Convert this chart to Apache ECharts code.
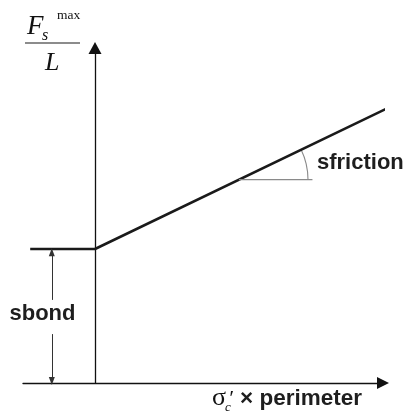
<!DOCTYPE html>
<html>
<head>
<meta charset="utf-8">
<script src="https://cdn.jsdelivr.net/npm/echarts@6/dist/echarts.min.js"></script>
<style>
html,body{margin:0;padding:0;background:#fff;}
#chart{width:406px;height:414px;}
</style>
</head>
<body>
<div id="chart"></div>
<script>
// ---- data (axis units) ----
const lawX = [-0.9, 0, 4.06];          // bond plateau then friction branch
const lawY = [4, 4, 8.2];
const angleRefX = [2, 3.02];            // horizontal reference for friction angle
const angleRefY = [6.07, 6.07];
const arcCenter = [2, 6.07];
const bondArrowX = -0.6;
const bondArrowY = [3.9, 2.48, 1.46, 0.06]; // upper tip, gap top, gap bottom, lower tip
const xRange = [-1, 4];
const yRange = [0, 10];

const chart = echarts.init(document.getElementById('chart'), null, {renderer: 'canvas'});

function txt(text, x, y, font, fill, align) {
  return {
    type: 'text', silent: true,
    style: {
      text: text, x: x, y: y, font: font, fill: fill,
      align: align || 'left', textAlign: align || 'left',
      verticalAlign: 'middle', textVerticalAlign: 'middle'
    }
  };
}

const sansB = 'bold 22px "Liberation Sans", Arial, sans-serif';
const sansBx = 'bold 22.5px "Liberation Sans", Arial, sans-serif';
const serif = '"Liberation Serif", "Times New Roman", serif';
const ink = '#1e1e1e';

const option = {
  animation: false,
  backgroundColor: '#ffffff',
  grid: {left: 23, right: 23, top: 48, bottom: 31, containLabel: false},
  xAxis: {
    type: 'value', min: xRange[0], max: xRange[1],
    axisLine: {show: true, onZero: true, symbol: ['none', 'triangle'], symbolSize: [12, 12],
      lineStyle: {color: '#111', width: 1.3}},
    axisTick: {show: false}, axisLabel: {show: false}, splitLine: {show: false}
  },
  yAxis: {
    type: 'value', min: yRange[0], max: yRange[1],
    axisLine: {show: true, onZero: true, symbol: ['none', 'triangle'], symbolSize: [13, 12],
      lineStyle: {color: '#111', width: 1.3}},
    axisTick: {show: false}, axisLabel: {show: false}, splitLine: {show: false}
  },
  series: [
    {
      type: 'line', clip: false, symbol: 'none', silent: true,
      data: lawX.map((x, i) => [x, lawY[i]]),
      lineStyle: {color: '#1a1a1a', width: 2.6}
    },
    {
      type: 'line', clip: false, symbol: 'none', silent: true,
      data: angleRefX.map((x, i) => [x, angleRefY[i]]),
      lineStyle: {color: '#8a8a8a', width: 1.1}
    },
    {
      type: 'custom', silent: true, clip: false,
      data: [arcCenter],
      renderItem: function (params, api) {
        const c = api.coord([api.value(0), api.value(1)]);
        const e = api.coord([lawX[2], lawY[2]]);
        const ang = Math.atan2(e[1] - c[1], e[0] - c[0]);
        return {
          type: 'arc',
          shape: {cx: c[0], cy: c[1], r: 69, startAngle: ang, endAngle: 0, clockwise: true},
          style: {stroke: '#8a8a8a', fill: null, lineWidth: 1.1}
        };
      }
    },
    {
      type: 'line', data: [], silent: true,
      markLine: {
        silent: true, animation: false,
        symbol: ['none', 'triangle'], symbolSize: [6, 8],
        label: {show: false},
        lineStyle: {color: '#333', width: 1, type: 'solid'},
        emphasis: {disabled: true},
        data: [
          [{coord: [bondArrowX, bondArrowY[1]]}, {coord: [bondArrowX, bondArrowY[0]]}],
          [{coord: [bondArrowX, bondArrowY[2]]}, {coord: [bondArrowX, bondArrowY[3]]}]
        ]
      }
    }
  ],
  graphic: [
    // y-axis title: F_s^max / L
    txt('F', 27, 26.5, 'italic 27px ' + serif, '#111'),
    txt('s', 42, 35.5, 'italic 16px ' + serif, '#111'),
    txt('max', 57, 15.5, '13.5px ' + serif, '#111'),
    {type: 'line', silent: true, shape: {x1: 25, y1: 43, x2: 80, y2: 43}, style: {stroke: '#666', lineWidth: 1.5}},
    txt('L', 45, 63, 'italic 26px ' + serif, '#111'),
    // annotations
    txt('sbond', 42.5, 314, sansB, ink, 'center'),
    txt('sfriction', 317, 163, sansB, ink),
    // x-axis title
    txt('σ', 212, 398, '26px ' + serif, '#111'),
    txt('′', 228, 399, 'italic 22px ' + serif, '#111'),
    txt('c', 225, 407.5, 'italic 13px ' + serif, '#111'),
    txt('× perimeter', 240, 399, sansBx, ink)
  ]
};
chart.setOption(option);
</script>
</body>
</html>
